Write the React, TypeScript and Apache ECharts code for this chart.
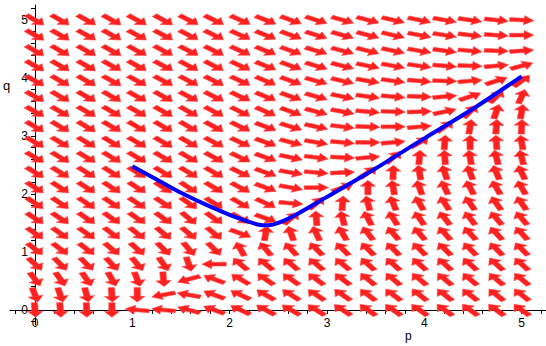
import React, { useEffect, useRef } from "react";
import * as echarts from "echarts";

// Grid of direction-field sample points (same for p and q)
const gridP = [0, 0.26, 0.53, 0.79, 1.05, 1.32, 1.58, 1.84, 2.11, 2.37, 2.63, 2.89, 3.16, 3.42, 3.68, 3.95, 4.21, 4.47, 4.74, 5];
const gridQ = [0, 0.26, 0.53, 0.79, 1.05, 1.32, 1.58, 1.84, 2.11, 2.37, 2.63, 2.89, 3.16, 3.42, 3.68, 3.95, 4.21, 4.47, 4.74, 5];

// Arrow directions as seen on the chart (degrees, counter-clockwise from +p), rows from top (q=5) to bottom (q=0)
const arrowAngles = [
  [-30, -30, -29, -29, -28, -28, -27, -26, -24, -22, -20, -18, -16, -15, -13, -12, -10, -8, -6, -3],
  [-30, -30, -29, -29, -28, -28, -27, -26, -24, -22, -20, -18, -16, -15, -13, -11, -9, -7, -4, 0],
  [-30, -30, -29, -29, -28, -28, -27, -26, -24, -22, -20, -17, -15, -14, -12, -10, -8, -5, -2, 4],
  [-30, -30, -30, -29, -29, -28, -28, -27, -25, -22, -20, -17, -14, -12, -10, -8, -5, -2, 5, 15],
  [-30, -30, -30, -29, -29, -28, -28, -27, -25, -23, -20, -16, -13, -10, -8, -5, -2, 5, 18, 35],
  [-30, -30, -30, -30, -29, -29, -28, -27, -25, -23, -20, -16, -12, -8, -5, -2, 5, 18, 45, 65],
  [-30, -30, -30, -30, -30, -29, -29, -28, -26, -24, -20, -15, -11, -5, -2, 2, 12, 45, 70, 80],
  [-31, -31, -31, -30, -30, -30, -30, -29, -26, -21, -17, -12, -7, -2, 0, 5, 35, 80, 85, 87],
  [-31, -31, -31, -31, -30, -30, -30, -28, -25, -20, -15, -10, -5, 0, 5, 30, 85, 90, 95, 100],
  [-31, -31, -31, -31, -31, -30, -30, -29, -25, -20, -12, -7, -3, 5, 40, 85, 95, 100, 105, 105],
  [-32, -32, -32, -32, -32, -31, -31, -30, -25, -20, -10, -5, 3, 35, 88, 100, 108, 110, 113, 115],
  [-33, -33, -33, -33, -33, -33, -33, -31, -28, -20, -10, 0, 20, 90, 100, 110, 115, 118, 120, 120],
  [-34, -34, -34, -34, -34, -34, -35, -33, -30, -25, -5, 40, 85, 105, 112, 120, 123, 125, 125, 125],
  [-34, -34, -35, -35, -35, -36, -40, -35, -30, -20, 40, 95, 105, 118, 122, 125, 128, 128, 130, 130],
  [-36, -36, -36, -37, -38, -40, -40, -40, -20, 80, 110, 115, 120, 128, 130, 130, 132, 132, 133, 133],
  [-38, -38, -38, -40, -42, -45, -50, -45, 120, 130, 132, 135, 135, 135, 135, 135, 135, 135, 135, 135],
  [-42, -45, -45, -47, -50, -55, -70, 180, 140, 140, 140, 140, 140, 138, 138, 138, 138, 138, 138, 138],
  [-52, -55, -55, -60, -68, -85, 195, 160, 150, 145, 145, 143, 142, 140, 140, 140, 140, 140, 140, 140],
  [-68, -70, -75, -85, -90, 190, 170, 160, 155, 150, 148, 146, 145, 143, 143, 142, 142, 142, 142, 142],
  [-85, -85, -88, -90, 175, 175, 165, 160, 155, 152, 150, 148, 147, 145, 145, 145, 144, 144, 144, 144],
];

// Solution curve
const curveP = [1.0, 1.25, 1.5, 1.75, 2.0, 2.2, 2.3, 2.4, 2.5, 2.7, 3.0, 3.5, 4.0, 4.5, 5.0];
const curveQ = [2.48, 2.25, 2.02, 1.82, 1.64, 1.52, 1.47, 1.46, 1.5, 1.66, 1.95, 2.44, 2.96, 3.47, 4.03];

const xLabels = [0, 1, 2, 3, 4, 5];
const yLabels = [0, 1, 2, 3, 4, 5];
const minorTicks = [-0.2, 0, 0.2, 0.4, 0.6, 0.8, 1, 1.2, 1.4, 1.6, 1.8, 2, 2.2, 2.4, 2.6, 2.8, 3, 3.2, 3.4, 3.6, 3.8, 4, 4.2, 4.4, 4.6, 4.8, 5, 5.2];

export default function App() {
  const ref = useRef<HTMLDivElement>(null);
  useEffect(() => {
    document.body.style.margin = "0";
    if (!ref.current) return;
    const chart = echarts.init(ref.current, null, { renderer: "svg" });
    const field: number[][] = [];
    const nRows = arrowAngles.length;
    for (let r = 0; r < nRows; r++) {
      for (let c = 0; c < gridP.length; c++) {
        field.push([gridP[c], gridQ[nRows - 1 - r], arrowAngles[r][c]]);
      }
    }
    const font = "'Liberation Sans', Arial, sans-serif";
    chart.setOption({
      animation: false,
      grid: { left: 10, right: 0, top: 5, bottom: 21, containLabel: false, outerBoundsMode: "none" },
      xAxis: {
        type: "value",
        min: -0.257,
        max: 5.25,
        offset: -15.07,
        axisLine: { onZero: false, lineStyle: { color: "#000", width: 1 } },
        axisTick: { show: true, customValues: minorTicks, length: 4, lineStyle: { color: "#000" } },
        axisLabel: { customValues: xLabels, color: "#000", fontSize: 12, fontFamily: font, margin: 7 },
        splitLine: { show: false },
      },
      yAxis: {
        type: "value",
        min: -0.26,
        max: 5.26,
        offset: -25.01,
        axisLine: { onZero: false, show: true, lineStyle: { color: "#000", width: 1 } },
        axisTick: { show: true, customValues: minorTicks, length: 4, lineStyle: { color: "#000" } },
        axisLabel: { customValues: yLabels, color: "#000", fontSize: 12, fontFamily: font, margin: 7 },
        splitLine: { show: false },
      },
      graphic: [
        { type: "text", left: 3, top: 79, style: { text: "q", fontSize: 13, fontFamily: font, fill: "#000" } },
        { type: "text", left: 405, top: 330, style: { text: "p", fontSize: 12, fontFamily: font, fill: "#000" } },
      ],
      series: [
        {
          type: "custom",
          data: field,
          encode: { x: 0, y: 1 },
          z: 2,
          renderItem: (params: any, api: any) => {
            const p = api.value(0);
            const q = api.value(1);
            const phi = (api.value(2) * Math.PI) / 180;
            const s = api.size([1, 1]);
            let dx = Math.cos(phi) / s[0];
            let dy = Math.sin(phi) / s[1];
            const n = Math.hypot(dx, dy);
            dx /= n;
            dy /= n;
            const nx = -dy;
            const ny = dx;
            const L = 0.25, hl = 0.1, hw = 0.078, sw = 0.032;
            const pt = (a: number, b: number) => api.coord([p + a * dx + b * nx, q + a * dy + b * ny]);
            const t = -L / 2, h = L / 2, b = h - hl;
            const points = [pt(t, -sw), pt(b, -sw), pt(b, -hw), pt(h, 0), pt(b, hw), pt(b, sw), pt(t, sw)];
            return {
              type: "polygon",
              shape: { points },
              style: { fill: "#ff2020", stroke: "#ff4a4a", lineWidth: 0.6 },
            };
          },
        },
        {
          type: "line",
          data: curveP.map((p, i) => [p, curveQ[i]]),
          showSymbol: false,
          smooth: 0.3,
          z: 5,
          lineStyle: { color: "#0000ff", width: 4 },
        },
      ],
    });
    return () => chart.dispose();
  }, []);
  return <div ref={ref} style={{ width: 546, height: 346 }} />;
}
